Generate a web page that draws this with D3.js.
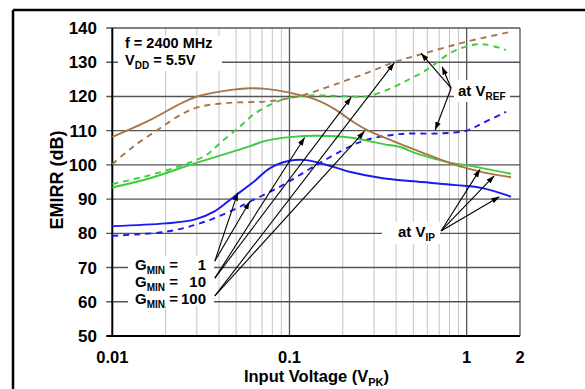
<!DOCTYPE html>
<html><head><meta charset="utf-8">
<script src="https://cdn.jsdelivr.net/npm/d3@7"></script>
<style>
html,body{margin:0;padding:0;background:#fff;}
text{font-family:"Liberation Sans",Arial,sans-serif;font-weight:bold;fill:#000;}
</style></head>
<body><svg id="c" width="585" height="389"></svg>
<script>
// ---- data (input voltage in V_PK, EMIRR in dB) ----
const yTicks = [50,60,70,80,90,100,110,120,130,140];
const xTickLabels = [[0.01,"0.01"],[0.1,"0.1"],[1,"1"],[2,"2"]];
const minorX = [0.02,0.03,0.04,0.05,0.06,0.07,0.08,0.09,0.2,0.3,0.4,0.5,0.6,0.7,0.8,0.9];
const majorX = [0.1,1];

const brownSolidV = [0.01,0.0163,0.0251,0.0312,0.048,0.06,0.074,0.1,0.142,0.18,0.218,0.271,0.344,0.417,0.527,0.817,1.01,1.3,1.78];
const brownSolidD = [108.2,113.1,118.3,120.2,122.0,122.4,122.2,121.1,119.0,116.3,113.3,110.3,108.0,106.2,104.2,100.4,99.0,97.6,96.4];
const brownDashV = [0.01,0.0131,0.0186,0.025,0.0312,0.048,0.074,0.1,0.122,0.176,0.271,0.39,0.578,1.0,1.78];
const brownDashD = [100.2,105.3,110.7,115.0,117.0,118.2,118.5,119.5,120.5,123.3,126.8,130.0,132.6,136.0,138.9];
const greenSolidV = [0.01,0.0163,0.0286,0.048,0.06,0.074,0.104,0.145,0.218,0.344,0.417,0.53,0.817,1.03,1.78];
const greenSolidD = [93.4,96.1,100.3,103.9,105.5,107.1,108.2,108.5,108.0,106.0,105.3,103.2,100.6,99.8,97.4];
const greenDashV = [0.01,0.0163,0.0251,0.034,0.0404,0.0524,0.0623,0.0807,0.1,0.13,0.2,0.271,0.34,0.446,0.603,0.817,1.06,1.26,1.67];
const greenDashD = [94.4,97.0,100.0,102.9,106.3,111.2,114.6,118.0,119.6,120.3,120.1,120.0,121.5,124.3,128.0,132.8,135.0,135.2,133.6];
const blueSolidV = [0.01,0.02,0.029,0.038,0.048,0.0636,0.0773,0.1,0.124,0.175,0.218,0.336,0.5,0.87,1.23,1.78];
const blueSolidD = [82.1,82.9,84.0,86.5,90.5,95.3,99.0,101.2,101.4,99.5,98.0,96.1,95.2,94.1,93.2,90.7];
const blueDashV = [0.01,0.0202,0.0312,0.048,0.06,0.0917,0.142,0.218,0.271,0.417,0.7,1.0,1.23,1.67];
const blueDashD = [79.3,80.5,82.9,86.8,89.3,94.1,100.0,105.3,107.3,109.0,109.2,110.0,112.2,115.5];

const series = [
  {v:blueDashV, d:blueDashD, color:"#1a1af0", dash:"6,5"},
  {v:blueSolidV, d:blueSolidD, color:"#1a1af0", dash:null},
  {v:greenDashV, d:greenDashD, color:"#3ccc3c", dash:"6,5"},
  {v:greenSolidV, d:greenSolidD, color:"#3ccc3c", dash:null},
  {v:brownDashV, d:brownDashD, color:"#a8764a", dash:"6,5"},
  {v:brownSolidV, d:brownSolidD, color:"#a8764a", dash:null}
];

// annotation arrows: [fromV, fromD, toV, toD]
const gminArrows = [
  [0.0379,71.9,0.0511,91.9],[0.0379,71.9,0.0597,89.3],
  [0.0379,66.9,0.1218,108.0],[0.0379,66.9,0.223,119.75],
  [0.0379,61.7,0.265,109.8],[0.0379,61.7,0.39,129.8]
];
const vrefArrows = [[0.817,122.4,0.553,132.6],[0.817,122.4,0.727,128.7],[0.817,122.4,0.664,110.2]];
const vipArrows = [[0.717,80.7,1.19,98.7],[0.717,80.7,1.43,96.8],[0.717,80.7,1.53,90.7]];
const gminLabels = [["1"],["10"],["100"]];

// ---- drawing ----
const svg = d3.select("#c");
const x = d3.scaleLog().domain([0.01,2]).range([112.3,520]);
const y = d3.scaleLinear().domain([50,140]).range([336,28]);

// outer frame
svg.append("line").attr("x1",13).attr("x2",585).attr("y1",10).attr("y2",10).attr("stroke","#000").attr("stroke-width",2.5);
svg.append("line").attr("x1",13).attr("x2",13).attr("y1",10).attr("y2",389).attr("stroke","#000").attr("stroke-width",2.5);

const g = svg.append("g");
g.selectAll(".mx").data(minorX).enter().append("line")
  .attr("x1",d=>x(d)).attr("x2",d=>x(d)).attr("y1",y(140)).attr("y2",y(50))
  .attr("stroke","#c4c4c4").attr("stroke-width",1);
g.selectAll(".Mx").data(majorX).enter().append("line")
  .attr("x1",d=>x(d)).attr("x2",d=>x(d)).attr("y1",y(140)).attr("y2",y(50))
  .attr("stroke","#555").attr("stroke-width",1.3);
g.append("line").attr("x1",x(2)).attr("x2",x(2)).attr("y1",y(140)).attr("y2",y(50)).attr("stroke","#555").attr("stroke-width",1.3);
g.selectAll(".hy").data(yTicks.filter(t=>t>50)).enter().append("line")
  .attr("x1",x(0.01)-6).attr("x2",x(2)).attr("y1",d=>y(d)).attr("y2",d=>y(d))
  .attr("stroke","#555").attr("stroke-width",1.4);

// label backgrounds (mask gridlines)
const bg = svg.append("g");
bg.append("rect").attr("x",118).attr("y",36).attr("width",104).attr("height",35).attr("fill","#fff");
bg.append("rect").attr("x",128).attr("y",256).attr("width",86).attr("height",50).attr("fill","#fff");
bg.append("rect").attr("x",454).attr("y",80).attr("width",56).attr("height",22).attr("fill","#fff");
bg.append("rect").attr("x",382).attr("y",222).attr("width",58).attr("height",22).attr("fill","#fff");

// axes lines
svg.append("line").attr("x1",x(0.01)-6).attr("x2",x(2)).attr("y1",y(50)).attr("y2",y(50)).attr("stroke","#000").attr("stroke-width",2);
svg.append("line").attr("x1",x(0.01)).attr("x2",x(0.01)).attr("y1",y(140)).attr("y2",y(50)).attr("stroke","#000").attr("stroke-width",2);

// curves
const line = d3.line().x(p=>x(p[0])).y(p=>y(p[1])).curve(d3.curveCatmullRom.alpha(0.5));
svg.selectAll(".s").data(series).enter().append("path")
  .attr("d",s=>line(s.v.map((v,i)=>[v,s.d[i]])))
  .attr("fill","none").attr("stroke",s=>s.color).attr("stroke-width",1.9)
  .attr("stroke-dasharray",s=>s.dash);

// arrows
svg.append("defs").append("marker").attr("id","ah").attr("viewBox","0 0 10 10")
  .attr("refX",10).attr("refY",5).attr("markerWidth",8).attr("markerHeight",8)
  .attr("markerUnits","userSpaceOnUse").attr("orient","auto")
  .append("path").attr("d","M0,1.5L10,5L0,8.5Z").attr("fill","#000");
svg.selectAll(".ar").data(gminArrows.concat(vrefArrows,vipArrows)).enter().append("line")
  .attr("x1",a=>x(a[0])).attr("y1",a=>y(a[1])).attr("x2",a=>x(a[2])).attr("y2",a=>y(a[3]))
  .attr("stroke","#000").attr("stroke-width",1.1).attr("marker-end","url(#ah)");

// tick labels
svg.selectAll(".yl").data(yTicks).enter().append("text")
  .attr("x",97).attr("y",d=>y(d)+6).attr("text-anchor","end").attr("font-size",17).text(d=>d);
svg.selectAll(".xl").data(xTickLabels).enter().append("text")
  .attr("x",d=>x(d[0])).attr("y",363).attr("text-anchor","middle").attr("font-size",16.5).text(d=>d[1]);

// axis titles
const xt = svg.append("text").attr("x",x(0.1)+27).attr("y",382).attr("text-anchor","middle").attr("font-size",16.5);
xt.append("tspan").text("Input Voltage (V");
xt.append("tspan").attr("font-size",11).attr("dy",4).text("PK");
xt.append("tspan").attr("dy",-4).text(")");
svg.append("text").attr("transform","translate(63,180) rotate(-90)").attr("text-anchor","middle")
  .attr("font-size",18).text("EMIRR (dB)");

// condition text
svg.append("text").attr("x",125).attr("y",48).attr("font-size",14.5).text("f = 2400 MHz");
const vdd = svg.append("text").attr("x",125).attr("y",65).attr("font-size",14.5);
vdd.append("tspan").text("V");
vdd.append("tspan").attr("font-size",10).attr("dy",4).text("DD");
vdd.append("tspan").attr("dy",-4).text(" = 5.5V");

// GMIN labels
gminLabels.forEach((l,i)=>{
  const yy = 270 + i*17;
  const t = svg.append("text").attr("x",135).attr("y",yy).attr("font-size",15);
  t.append("tspan").text("G");
  t.append("tspan").attr("font-size",10).attr("dy",4).text("MIN");
  t.append("tspan").attr("dy",-4).text(" =");
  svg.append("text").attr("x",206).attr("y",yy).attr("text-anchor","end").attr("font-size",15).text(l[0]);
});

// at VREF / at VIP
const vr = svg.append("text").attr("x",458).attr("y",96).attr("font-size",15);
vr.append("tspan").text("at V");
vr.append("tspan").attr("font-size",10).attr("dy",4).text("REF");
const vi = svg.append("text").attr("x",398).attr("y",237).attr("font-size",15);
vi.append("tspan").text("at V");
vi.append("tspan").attr("font-size",10).attr("dy",4).text("IP");
</script></body></html>
